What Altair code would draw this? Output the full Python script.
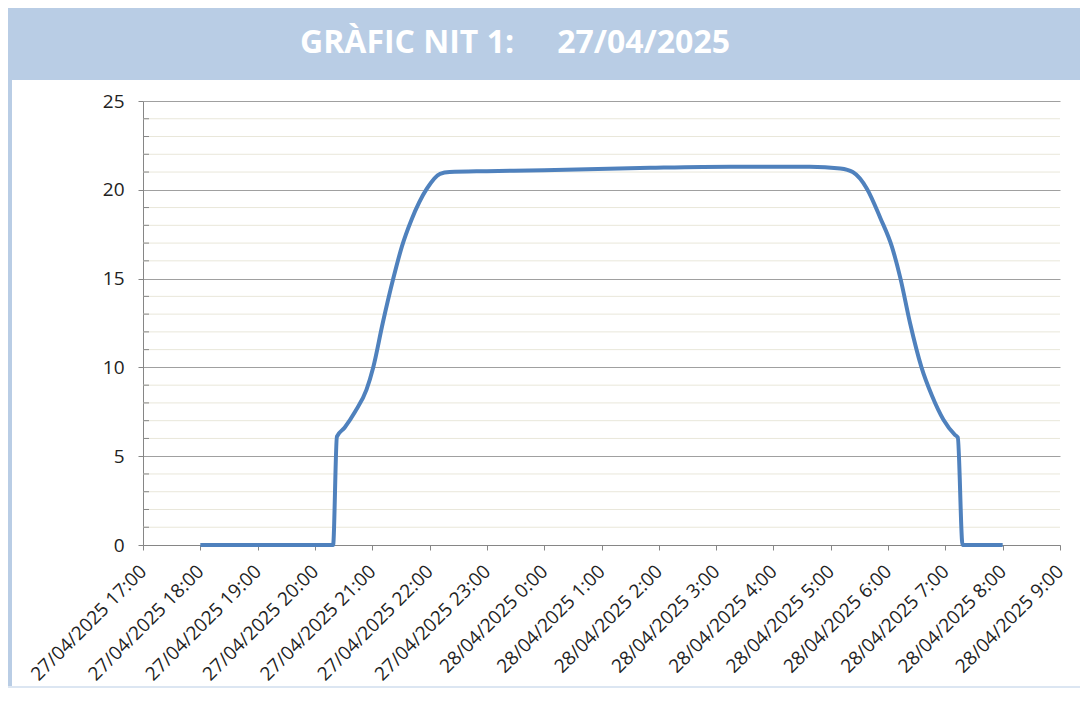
import altair as alt
import pandas as pd

# ---- data ----
times = [
    "2025-04-27 18:00", "2025-04-27 20:19", "2025-04-27 20:23", "2025-04-27 20:31",
    "2025-04-27 20:42", "2025-04-27 20:54", "2025-04-27 21:01", "2025-04-27 21:11",
    "2025-04-27 21:22", "2025-04-27 21:31", "2025-04-27 21:41", "2025-04-27 21:57",
    "2025-04-27 22:11", "2025-04-27 22:21", "2025-04-27 23:00", "2025-04-28 00:00",
    "2025-04-28 01:51", "2025-04-28 03:15", "2025-04-28 04:38", "2025-04-28 05:10",
    "2025-04-28 05:23", "2025-04-28 05:38", "2025-04-28 05:52", "2025-04-28 06:04",
    "2025-04-28 06:13", "2025-04-28 06:23", "2025-04-28 06:35", "2025-04-28 06:46",
    "2025-04-28 06:58", "2025-04-28 07:10", "2025-04-28 07:13", "2025-04-28 07:18",
    "2025-04-28 08:00",
]
values = [
    0, 0, 6.1, 6.6,
    7.5, 8.75, 10.0, 12.5,
    15.0, 16.8, 18.3, 20.05,
    20.9, 21.0, 21.05, 21.1,
    21.24, 21.3, 21.3, 21.2,
    21.0, 20.05, 18.4, 16.8,
    15.0, 12.5, 10.0, 8.4,
    7.05, 6.2, 6.05, 0,
    0,
]
tick_days = [27] * 7 + [28] * 10
tick_hours = list(range(17, 24)) + list(range(0, 10))
major_ticks = [0, 5, 10, 15, 20, 25]
minor_ticks = [v for v in range(0, 26) if v % 5 != 0]
title_left = "GRÀFIC NIT 1:"
title_right = "27/04/2025"

# ---- build ----
df = pd.DataFrame({"t": pd.to_datetime(times), "v": values})
tick_values = [alt.DateTime(year=2025, month=4, date=d, hours=h)
               for d, h in zip(tick_days, tick_hours)]
x_domain = [tick_values[0], tick_values[-1]]

W, H = 917, 444
PL, PT, PR, PB = 135, 93, 20, 143
BAND = "#b9cde5"
AXC = "#868686"
LABEL_FONT = "Open Sans"
LABEL_COLOR = "#222222"
yscale = alt.Scale(domain=[0, 25], nice=False)
yaxis = alt.Axis(values=major_ticks, grid=True, gridColor="#a0a0a0",
                 labelFont=LABEL_FONT, labelFontSize=19, labelColor=LABEL_COLOR,
                 labelPadding=14, labelOverlap=False,
                 tickSize=5, tickColor=AXC, domainColor=AXC)

one = pd.DataFrame({"a": [0]})

band = alt.Chart(one).mark_rect(color=BAND).encode(
    x=alt.value(-PL), x2=alt.value(W + PR), y=alt.value(-PT), y2=alt.value(-21))
left_strip = alt.Chart(one).mark_rect(color=BAND).encode(
    x=alt.value(-PL), x2=alt.value(-PL + 4), y=alt.value(-21), y2=alt.value(H + PB))
bottom_strip = alt.Chart(one).mark_rect(color="#dce6f2").encode(
    x=alt.value(-PL), x2=alt.value(W + PR), y=alt.value(H + PB - 2), y2=alt.value(H + PB))

mdf = pd.DataFrame({"v": minor_ticks})
minor_grid = alt.Chart(mdf).mark_rule(color="#e9e7da", strokeWidth=1).encode(
    y=alt.Y("v:Q", title=None, axis=yaxis, scale=yscale), x=alt.value(0), x2=alt.value(W))
minor_tick = alt.Chart(mdf).mark_rule(color=AXC, strokeWidth=1).encode(
    y=alt.Y("v:Q", title=None, axis=yaxis, scale=yscale), x=alt.value(0), x2=alt.value(6))

line = alt.Chart(df).mark_line(
    color="#4f81bd", strokeWidth=4, interpolate="monotone", strokeJoin="round"
).encode(
    x=alt.X("t:T", title=None,
            scale=alt.Scale(domain=x_domain),
            axis=alt.Axis(values=tick_values, format="%d/%m/%Y %-H:%M", formatType="time",
                          labelAngle=-45, labelAlign="right", labelBaseline="middle",
                          labelFont=LABEL_FONT, labelFontSize=19, labelColor=LABEL_COLOR,
                          labelPadding=18, labelOverlap=False, labelFlush=False,
                          tickSize=5, tickColor=AXC, domainColor=AXC, grid=False)),
    y=alt.Y("v:Q", title=None, scale=yscale, axis=yaxis),
)

tl = alt.Chart(one).mark_text(
    font="Open Sans", fontSize=32, fontWeight="bold", color="white",
    align="left", baseline="alphabetic"
).encode(x=alt.value(300 - 143), y=alt.value(53 - 101), text=alt.value(title_left))
tr = alt.Chart(one).mark_text(
    font="Open Sans", fontSize=32, fontWeight="bold", color="white",
    align="right", baseline="alphabetic"
).encode(x=alt.value(730 - 143), y=alt.value(53 - 101), text=alt.value(title_right))

chart = alt.layer(band, left_strip, bottom_strip, minor_grid, minor_tick, line, tl, tr).properties(
    width=W, height=H,
    autosize=alt.AutoSizeParams(type="none"),
    padding={"left": PL, "top": PT, "right": PR, "bottom": PB},
    background="white",
).configure_view(stroke=None)

chart.save("out.html", embed_options={"renderer": "svg", "actions": False})
